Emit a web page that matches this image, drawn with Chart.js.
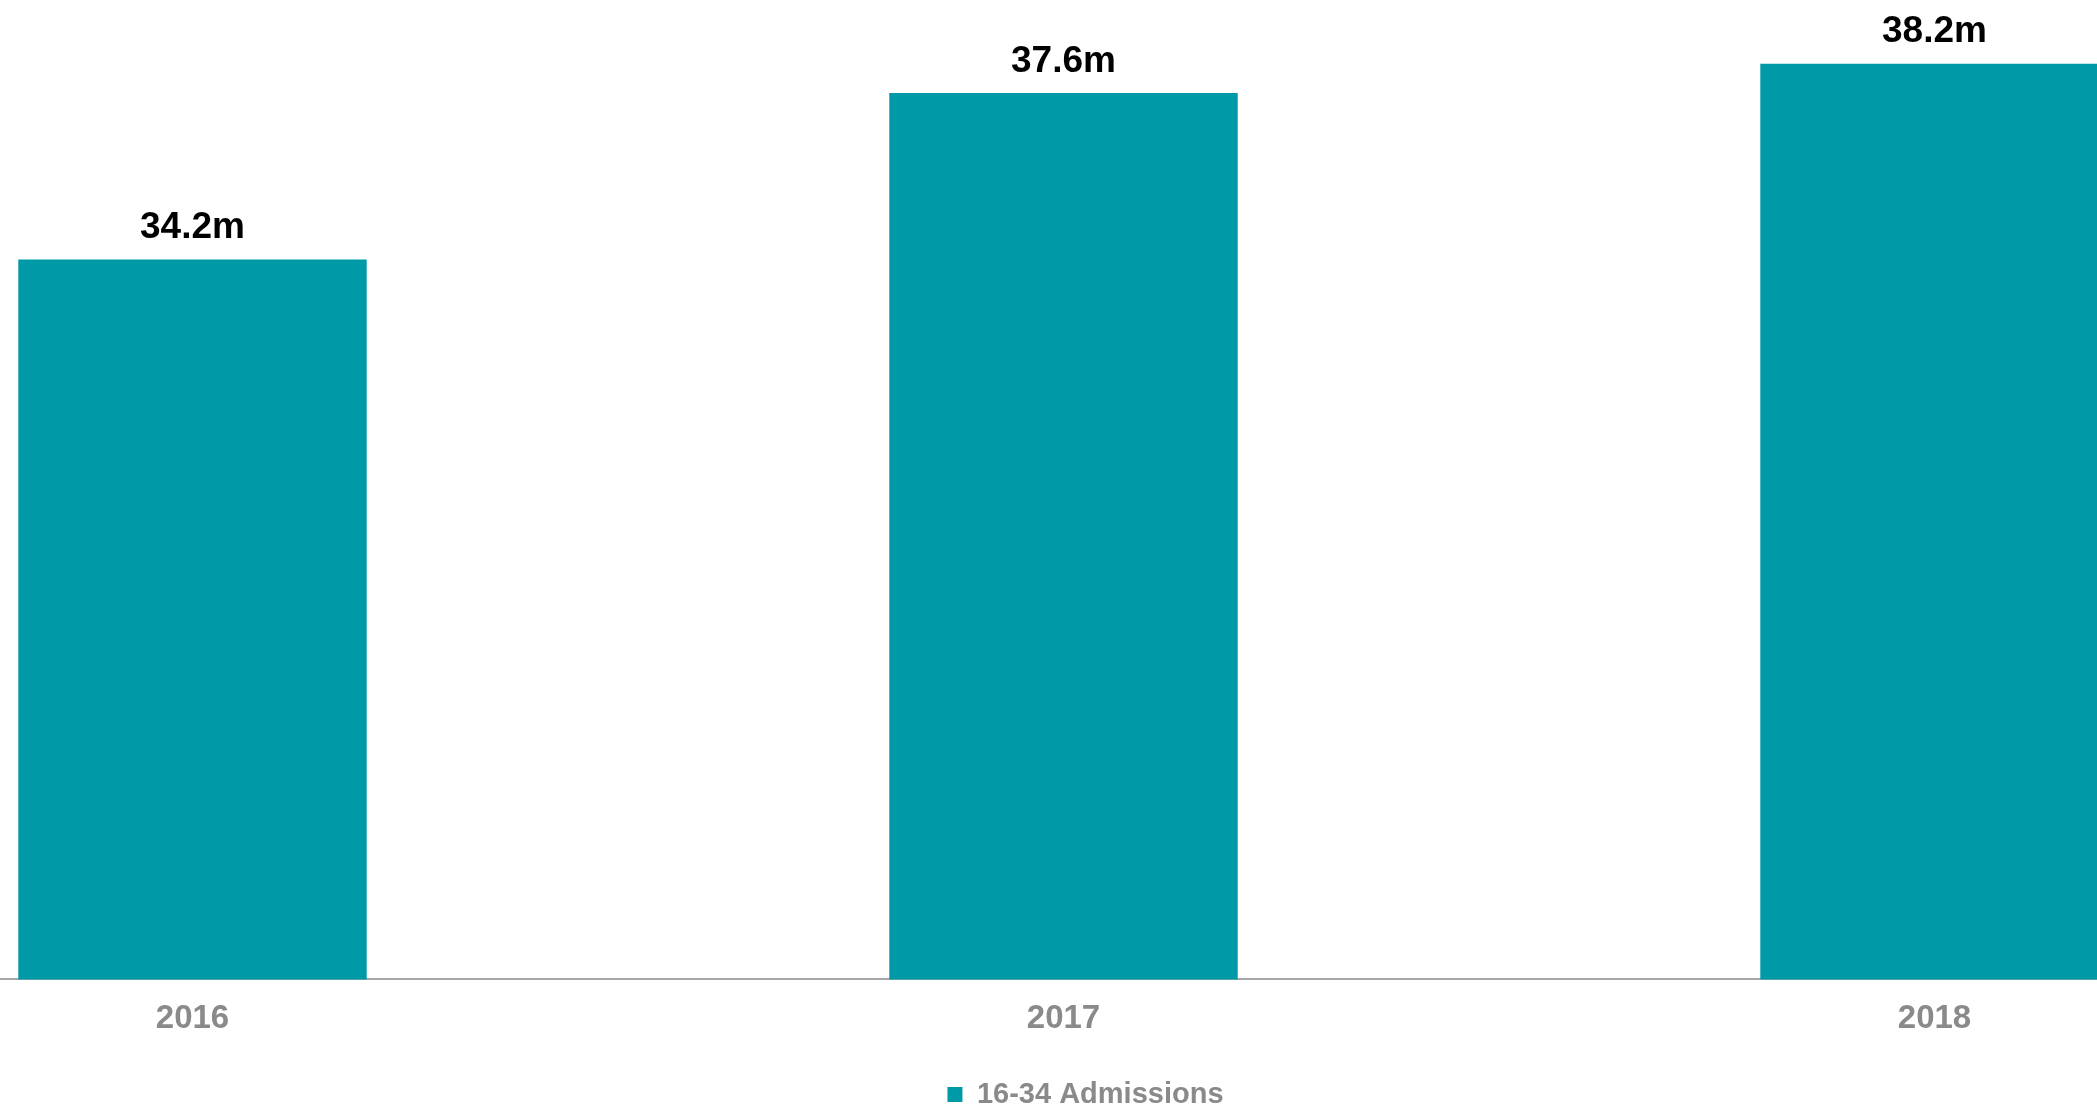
<!DOCTYPE html>
<html>
<head>
<meta charset="utf-8">
<script src="https://cdn.jsdelivr.net/npm/chart.js@4.4.1/dist/chart.umd.min.js"></script>
<style>
  html, body { margin: 0; padding: 0; background: #fff; }
  #wrap { position: relative; width: 2097px; height: 1107px; overflow: hidden; }
  #box { position: absolute; left: -243px; top: 0; width: 2613px; height: 1107px; }
</style>
</head>
<body>
<div id="wrap"><div id="box"><canvas id="admChart"></canvas></div></div>
<script>
// chart data
var years = ['2016', '2017', '2018'];
var admissions = [34.2, 37.6, 38.2];
var valueLabels = ['34.2m', '37.6m', '38.2m'];
var seriesName = '16-34 Admissions';

var barColour = '#0099a8';
var greyText = '#8a8a8a';

// draws the "34.2m" style labels above each bar
var topLabels = {
  id: 'topLabels',
  afterDatasetsDraw: function(chart) {
    var ctx = chart.ctx;
    var meta = chart.getDatasetMeta(0);
    ctx.save();
    ctx.font = 'bold 37px "Liberation Sans", Arial, sans-serif';
    ctx.fillStyle = '#000';
    ctx.textAlign = 'center';
    ctx.textBaseline = 'bottom';
    meta.data.forEach(function(bar, i) {
      ctx.fillText(valueLabels[i], bar.x, bar.y - 13);
    });
    ctx.restore();
  }
};

// nudge legend a bit right and down, like the original
var legendNudge = {
  id: 'legendNudge',
  afterLayout: function(chart) {
    chart.legend.left += 22;
    chart.legend.right += 22;
    chart.legend.top += 12;
    chart.legend.bottom += 12;
  }
};

var ctx = document.getElementById('admChart');

var barGraph = new Chart(ctx, {
  type: 'bar',
  data: {
    labels: years,
    datasets: [{
      label: seriesName,
      data: admissions,
      backgroundColor: barColour,
      borderWidth: 0,
      categoryPercentage: 1,
      barPercentage: 0.4
    }]
  },
  options: {
    responsive: true,
    maintainAspectRatio: false,
    animation: false,
    layout: { padding: 0 },
    plugins: {
      tooltip: { enabled: false },
      legend: {
        position: 'bottom',
        labels: {
          color: greyText,
          font: { family: '"Liberation Sans", Arial, sans-serif', size: 29, weight: 'bold' },
          boxWidth: 15,
          boxHeight: 15,
          padding: 17
        }
      }
    },
    scales: {
      x: {
        grid: { display: false },
        border: { display: true, color: '#a6a6a6', width: 2 },
        ticks: {
          color: greyText,
          font: { family: '"Liberation Sans", Arial, sans-serif', size: 33, weight: 'bold' },
          padding: 12
        }
      },
      y: {
        display: false,
        min: 19.5,
        max: 39.5
      }
    }
  },
  plugins: [topLabels, legendNudge]
});
</script>
</body>
</html>
